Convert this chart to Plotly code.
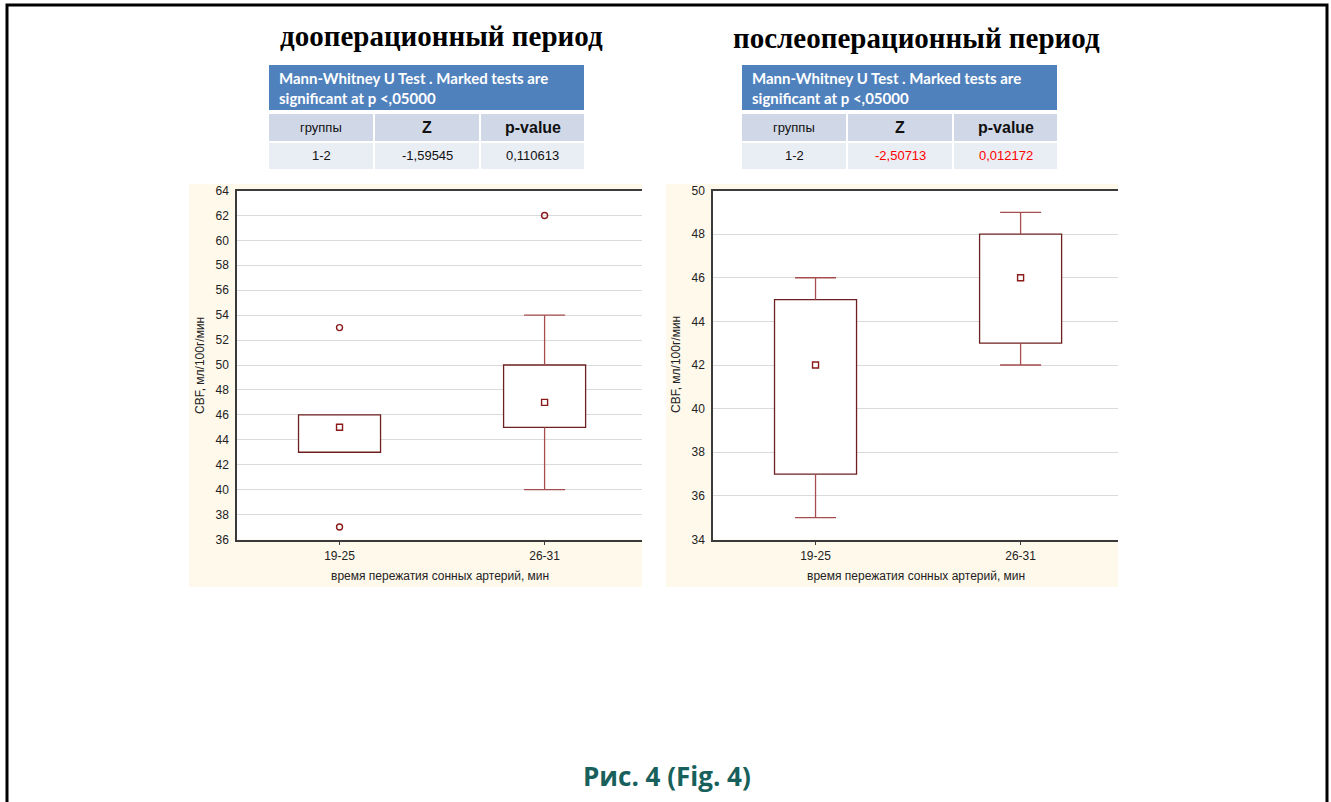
import plotly.graph_objects as go

W, H = 1331, 802


def px(x):
    return x / W


def py(y):
    return 1 - y / H


# ---------------- data ----------------
groups = ["19-25", "26-31"]

pre_q1 = [43, 45]
pre_median = [45, 47]
pre_q3 = [46, 50]
pre_low = [43, 40]
pre_high = [46, 54]
pre_outlier_group = ["19-25", "19-25", "26-31"]
pre_outlier_value = [53, 37, 62]

post_q1 = [37, 43]
post_median = [42, 46]
post_q3 = [45, 48]
post_low = [35, 42]
post_high = [46, 49]
post_outlier_group = []
post_outlier_value = []

panel_titles = ["дооперационный период", "послеоперационный период"]
table_title = "Mann-Whitney U Test . Marked tests are<br>significant at p <,05000"
table_headers = ["группы", "Z", "p-value"]
table_pair = ["1-2", "1-2"]
table_z = ["-1,59545", "-2,50713"]
table_p = ["0,110613", "0,012172"]
table_significant = [False, True]

y_title = "CBF, мл/100г/мин"
x_title = "время пережатия сонных артерий, мин"
caption = "Рис. 4 (Fig. 4)"

# ---------------- styles ----------------
BOX = "#6e1f1f"
WHISK = "#a64d4d"
MARK = "#8b1a1a"
GRID = "#dadada"
AXIS = "#3a3a3a"
CREAM = "#fff9ec"
BLUE = "#4f81bd"
ROW1 = "#d0d8e8"
ROW2 = "#e9edf4"
BOXW = 0.4
CAPW = 0.2

fig = go.Figure()
shapes = []
annotations = []


def add_panel(xa, ya, q1, med, q3, low, high, out_g, out_v):
    idx = list(range(len(groups)))
    wx, wy = [], []
    for i in idx:
        if high[i] > q3[i]:
            wx += [i, i, None, i - CAPW / 2, i + CAPW / 2, None]
            wy += [q3[i], high[i], None, high[i], high[i], None]
        if low[i] < q1[i]:
            wx += [i, i, None, i - CAPW / 2, i + CAPW / 2, None]
            wy += [q1[i], low[i], None, low[i], low[i], None]
    fig.add_trace(go.Scatter(x=wx, y=wy, mode="lines", line=dict(color=WHISK, width=1.3),
                             xaxis=xa, yaxis=ya, showlegend=False, hoverinfo="skip"))
    fig.add_trace(go.Bar(x=idx, y=[b - a for a, b in zip(q1, q3)], base=q1, width=BOXW,
                         marker=dict(color="white", line=dict(color=BOX, width=1.3)),
                         xaxis=xa, yaxis=ya, showlegend=False))
    fig.add_trace(go.Scatter(x=idx, y=med, mode="markers",
                             marker=dict(symbol="square-open", size=6, color=MARK, line=dict(width=1.4)),
                             xaxis=xa, yaxis=ya, showlegend=False))
    if out_v:
        fig.add_trace(go.Scatter(x=[groups.index(g) for g in out_g], y=out_v, mode="markers",
                                 marker=dict(symbol="circle-open", size=6, color=MARK, line=dict(width=1.4)),
                                 xaxis=xa, yaxis=ya, showlegend=False))


add_panel("x", "y", pre_q1, pre_median, pre_q3, pre_low, pre_high, pre_outlier_group, pre_outlier_value)
add_panel("x2", "y2", post_q1, post_median, post_q3, post_low, post_high, post_outlier_group, post_outlier_value)

panels = [
    dict(px0=189, px1=642, py0=184, py1=587, ax0=237, ax1=642, ay0=190.5, ay1=539.5, tx=441, tabx=269),
    dict(px0=666, px1=1118, py0=184, py1=587, ax0=713, ax1=1118, ay0=190.5, ay1=539.5, tx=916, tabx=742),
]

for k, p in enumerate(panels):
    shapes.append(dict(type="rect", xref="paper", yref="paper", layer="below",
                       x0=px(p["px0"]), x1=px(p["px1"]), y0=py(p["py1"]), y1=py(p["py0"]),
                       fillcolor=CREAM, line=dict(width=0)))
    shapes.append(dict(type="rect", xref="paper", yref="paper", layer="below",
                       x0=px(p["ax0"]), x1=px(p["ax1"]), y0=py(p["ay1"]), y1=py(p["ay0"]),
                       fillcolor="white", line=dict(width=0)))
    annotations.append(dict(text="<b>" + panel_titles[k] + "</b>", xref="paper", yref="paper",
                            x=px(p["tx"]), y=py(36 + 2 * k), xanchor="center", yanchor="middle",
                            showarrow=False, font=dict(family="Liberation Serif", size=29, color="black")))
    annotations.append(dict(text=y_title, xref="paper", yref="paper", textangle=-90,
                            x=px(p["ax0"] - 37), y=py((p["ay0"] + p["ay1"]) / 2),
                            xanchor="center", yanchor="middle", showarrow=False,
                            font=dict(family="Arial", size=12, color="#222")))
    annotations.append(dict(text=x_title, xref="paper", yref="paper",
                            x=px((p["ax0"] + p["ax1"]) / 2), y=py(576),
                            xanchor="center", yanchor="middle", showarrow=False,
                            font=dict(family="Arial", size=12, color="#222")))
    tx0 = p["tabx"]
    tx1 = tx0 + 315
    shapes.append(dict(type="rect", xref="paper", yref="paper", x0=px(tx0), x1=px(tx1),
                       y0=py(110), y1=py(65), fillcolor=BLUE, line=dict(width=0)))
    annotations.append(dict(text="<b>" + table_title + "</b>", xref="paper", yref="paper",
                            x=px(tx0 + 8), y=py(87.5), xanchor="left", yanchor="middle", align="left",
                            showarrow=False, font=dict(family="Lato", size=15, color="white")))
    cols = [(tx0, tx0 + 104), (tx0 + 106, tx0 + 210), (tx0 + 212, tx1)]
    cells = [table_pair[k], table_z[k], table_p[k]]
    for c, (c0, c1) in enumerate(cols):
        shapes.append(dict(type="rect", xref="paper", yref="paper", x0=px(c0), x1=px(c1),
                           y0=py(141), y1=py(114), fillcolor=ROW1, line=dict(width=0)))
        shapes.append(dict(type="rect", xref="paper", yref="paper", x0=px(c0), x1=px(c1),
                           y0=py(169), y1=py(143), fillcolor=ROW2, line=dict(width=0)))
        htxt = table_headers[c] if c == 0 else "<b>" + table_headers[c] + "</b>"
        annotations.append(dict(text=htxt, xref="paper", yref="paper",
                                x=px((c0 + c1) / 2), y=py(127.5), xanchor="center", yanchor="middle",
                                showarrow=False,
                                font=dict(family="Arial", size=13 if c == 0 else 16, color="#111")))
        col = "#ff0000" if (table_significant[k] and c > 0) else "#111"
        annotations.append(dict(text=cells[c], xref="paper", yref="paper",
                                x=px((c0 + c1) / 2), y=py(155.5), xanchor="center", yanchor="middle",
                                showarrow=False, font=dict(family="Arial", size=13, color=col)))

shapes.append(dict(type="path", xref="paper", yref="paper",
                   path=f"M {px(7)},{py(830)} L {px(7)},{py(5)} L {px(1327)},{py(5)} L {px(1327)},{py(830)}",
                   line=dict(color="black", width=3)))

annotations.append(dict(text="<b>" + caption + "</b>", xref="paper", yref="paper",
                        x=px(667), y=py(776), xanchor="center", yanchor="middle", showarrow=False,
                        font=dict(family="Open Sans", size=26, color="#17605b")))


def xaxis(p):
    return dict(domain=[px(p["ax0"]), px(p["ax1"])], range=[-0.5, 1.475], tickvals=[0, 1],
                ticktext=groups, showgrid=False, zeroline=False, showline=True, linecolor=AXIS,
                linewidth=1.5, mirror=True, ticks="outside", ticklen=4, tickcolor=AXIS,
                tickfont=dict(family="Arial", size=12, color="#222"), fixedrange=True,
                automargin=False)


def yaxis(p, rng, anchor):
    return dict(domain=[py(p["ay1"]), py(p["ay0"])], range=rng, dtick=2, showgrid=True,
                gridcolor=GRID, gridwidth=1, zeroline=False, showline=True, linecolor=AXIS,
                linewidth=1.5, ticks="outside", ticklen=4, tickcolor="rgba(0,0,0,0)", anchor=anchor,
                tickfont=dict(family="Arial", size=12, color="#222"), fixedrange=True,
                automargin=False)


fig.update_layout(
    width=W, height=H, autosize=False,
    margin=dict(l=0, r=0, t=0, b=0, pad=0),
    paper_bgcolor="white", plot_bgcolor="rgba(0,0,0,0)",
    showlegend=False, barmode="overlay",
    xaxis=xaxis(panels[0]) | dict(anchor="y"),
    yaxis=yaxis(panels[0], [36, 64], "x"),
    xaxis2=xaxis(panels[1]) | dict(anchor="y2"),
    yaxis2=yaxis(panels[1], [34, 50], "x2"),
    shapes=shapes, annotations=annotations,
)

post = (
    "document.documentElement.style.margin='0';document.body.style.margin='0';"
    "document.body.style.overflow='hidden';"
    "var d=document.getElementById('{plot_id}');"
    "d.style.position='fixed';d.style.left='0px';d.style.top='0px';"
)
fig.write_html("out.html", config={"displayModeBar": False}, post_script=post)
